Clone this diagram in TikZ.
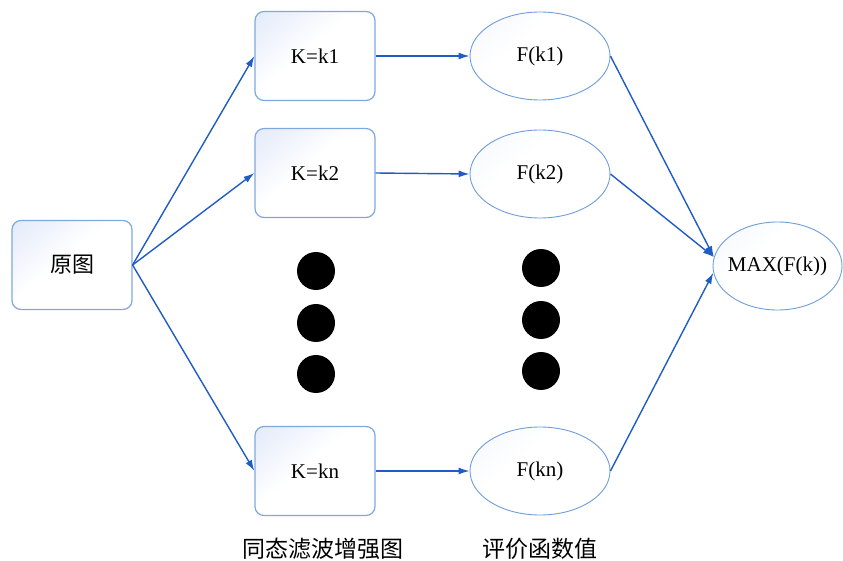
\documentclass[tikz,border=0pt]{standalone}
\usepackage{fontspec}
\setmainfont{Liberation Serif}
\newfontfamily\cjk{Noto Sans CJK SC}
\usetikzlibrary{shapes.geometric,arrows.meta}
\definecolor{arrowblue}{HTML}{1F5CC4}
\definecolor{edgeblue}{HTML}{7FA9DD}
\definecolor{ovaledge}{HTML}{6F9DDA}
\definecolor{shadeblue}{HTML}{D8E2F8}
\pgfdeclareverticalshading{boxshade}{100bp}{color(0bp)=(white); color(55bp)=(white); color(75bp)=(shadeblue!50); color(100bp)=(shadeblue)}
\pgfdeclareverticalshading{ovalshade}{100bp}{color(0bp)=(white); color(60bp)=(white); color(100bp)=(shadeblue!45)}
\tikzset{
  box/.style={draw=edgeblue, line width=1.2pt, rounded corners=9pt,
    minimum width=120pt, minimum height=89pt, inner sep=0pt,
    shading=boxshade, shading angle=40,
    font=\fontsize{21}{25}\selectfont},
  oval/.style={ellipse, draw=ovaledge, line width=0.9pt,
    minimum width=140pt, minimum height=88pt, inner sep=0pt,
    shading=ovalshade, shading angle=40,
    font=\fontsize{21}{25}\selectfont},
  conn/.style={draw=arrowblue, line width=1.4pt, -{Latex[length=11pt,width=7pt]}},
  dot/.style={circle, fill=black, minimum size=38pt, inner sep=0pt},
  caption/.style={font=\cjk\fontsize{23}{27}\selectfont}
}
\begin{document}
\begin{tikzpicture}[x=1pt,y=-1pt]
\useasboundingbox (0,0) rectangle (843,561);
\node[box] (src) at (72,265) {\cjk\fontsize{22}{26}\selectfont 原图};
\node[box] (k1) at (315,56) {K=k1};
\node[box] (k2) at (315,173) {K=k2};
\node[box] (kn) at (315,471) {K=kn};
\node[oval] (f1) at (540,56) {F(k1)};
\node[oval] (f2) at (540,174) {F(k2)};
\node[oval] (fn) at (540,471) {F(kn)};
\node[oval, minimum width=129pt] (mx) at (777.5,266) {\makebox[0pt]{MAX(F(k))}};
\node[dot] (d1) at (316,271) {};
\node[dot] (d2) at (316,323) {};
\node[dot] (d3) at (316,374) {};
\node[dot] (e1) at (541,268) {};
\node[dot] (e2) at (541,320) {};
\node[dot] (e3) at (541,371) {};
\node[caption] (c1) at (323,549) {同态滤波增强图};
\node[caption] (c2) at (540,549) {评价函数值};
\draw[conn] (src.east) -- (k1.west);
\draw[conn] (src.east) -- (k2.west);
\draw[conn] (src.east) -- (kn.west);
\draw[conn] (k1.east) -- (f1.west);
\draw[conn] (k2.east) -- (f2.west);
\draw[conn] (kn.east) -- (fn.west);
\draw[conn] (f1.east) -- (mx.172);
\draw[conn] (f2.east) -- (mx.172);
\draw[conn] (fn.east) -- (mx.186);
\end{tikzpicture}
\end{document}
